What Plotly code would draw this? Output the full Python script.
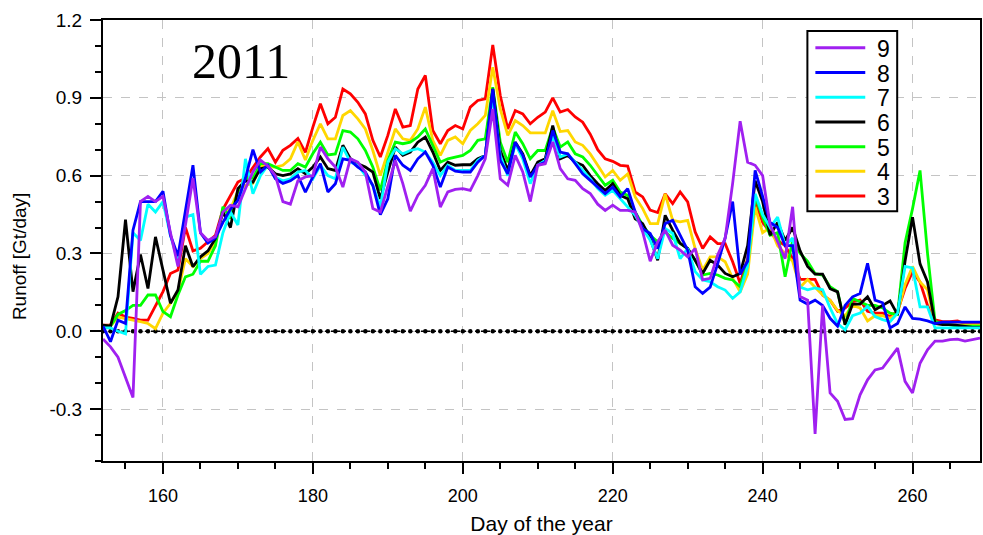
import plotly.graph_objects as go

# Day of year axis (daily values, days 152-269)
days = list(range(152, 270))

# Runoff [Gt/day] per experiment
runoff_9 = [
    -0.03, -0.06, -0.10, -0.18, -0.255, 0.50, 0.52, 0.50, 0.52, 0.38,
    0.25, 0.41, 0.59, 0.38, 0.35, 0.365, 0.46, 0.486, 0.48, 0.55,
    0.614, 0.66, 0.637, 0.60, 0.50, 0.49, 0.58, 0.595, 0.60, 0.71,
    0.665, 0.633, 0.556, 0.665, 0.652, 0.614, 0.473, 0.46, 0.556, 0.659,
    0.569, 0.463, 0.524, 0.563, 0.627, 0.479, 0.537, 0.547, 0.55, 0.543,
    0.60, 0.665, 0.857, 0.588, 0.563, 0.678, 0.614, 0.50, 0.64, 0.646,
    0.73, 0.627, 0.588, 0.582, 0.55, 0.531, 0.49, 0.466, 0.486, 0.466,
    0.466, 0.46, 0.383, 0.27, 0.345, 0.39, 0.332, 0.313, 0.287, 0.319,
    0.198, 0.204, 0.294, 0.358, 0.57, 0.81, 0.652, 0.64, 0.60, 0.41,
    0.345, 0.28, 0.48, 0.134, 0.12, -0.396, 0.10, -0.238, -0.27, -0.34,
    -0.337, -0.245, -0.187, -0.149, -0.142, -0.104, -0.065, -0.193, -0.238, -0.123,
    -0.071, -0.038, -0.038, -0.032, -0.03, -0.038, -0.032, -0.026,
]
runoff_8 = [
    0.02, -0.04, 0.043, 0.03, 0.39, 0.50, 0.50, 0.50, 0.54, 0.37,
    0.29, 0.466, 0.64, 0.38, 0.34, 0.36, 0.42, 0.47, 0.505, 0.59,
    0.70, 0.614, 0.64, 0.588, 0.57, 0.58, 0.60, 0.536, 0.595, 0.646,
    0.537, 0.569, 0.665, 0.659, 0.633, 0.614, 0.562, 0.45, 0.511, 0.678,
    0.64, 0.62, 0.665, 0.691, 0.64, 0.556, 0.633, 0.617, 0.614, 0.614,
    0.652, 0.678, 0.934, 0.659, 0.607, 0.729, 0.678, 0.595, 0.64, 0.652,
    0.774, 0.691, 0.684, 0.646, 0.607, 0.582, 0.556, 0.531, 0.556, 0.518,
    0.55, 0.46, 0.396, 0.377, 0.319, 0.415, 0.428, 0.37, 0.313, 0.172,
    0.146, 0.17, 0.26, 0.36, 0.50, 0.22, 0.27, 0.62, 0.52, 0.42,
    0.40, 0.33, 0.33, 0.12, 0.105, 0.12, 0.10, 0.05, 0.02, 0.10,
    0.133, 0.146, 0.262, 0.12, 0.11, 0.013, 0.03, 0.094, 0.05, 0.047,
    0.04, 0.03, 0.035, 0.035, 0.035, 0.035, 0.035, 0.035,
]
runoff_7 = [
    0.013, 0.013, 0.0, -0.01, 0.38, 0.35, 0.49, 0.46, 0.50, 0.37,
    0.27, 0.44, 0.45, 0.22, 0.25, 0.255, 0.38, 0.46, 0.41, 0.665,
    0.53, 0.60, 0.64, 0.594, 0.58, 0.588, 0.614, 0.62, 0.588, 0.64,
    0.60, 0.588, 0.71, 0.652, 0.64, 0.60, 0.562, 0.479, 0.652, 0.704,
    0.684, 0.697, 0.704, 0.691, 0.652, 0.60, 0.64, 0.62, 0.62, 0.62,
    0.659, 0.678, 0.909, 0.678, 0.60, 0.723, 0.665, 0.569, 0.64, 0.659,
    0.754, 0.672, 0.684, 0.652, 0.62, 0.588, 0.55, 0.524, 0.543, 0.511,
    0.479, 0.447, 0.396, 0.351, 0.28, 0.396, 0.377, 0.28, 0.319, 0.23,
    0.198, 0.191, 0.172, 0.159, 0.127, 0.152, 0.25, 0.53, 0.45, 0.40,
    0.44, 0.33, 0.36, 0.17, 0.16, 0.167, 0.16, 0.09, 0.03, 0.006,
    0.06, 0.07, 0.096, 0.057, 0.045, 0.037, 0.07, 0.25, 0.244, 0.094,
    0.094, 0.013, 0.013, 0.013, 0.013, 0.013, 0.013, 0.013,
]
runoff_6 = [
    0.024, 0.02, 0.133, 0.43, 0.153, 0.296, 0.165, 0.364, 0.236, 0.108,
    0.159, 0.33, 0.249, 0.287, 0.31, 0.358, 0.46, 0.40, 0.55, 0.58,
    0.575, 0.627, 0.633, 0.607, 0.60, 0.607, 0.627, 0.607, 0.633, 0.672,
    0.627, 0.62, 0.717, 0.665, 0.646, 0.633, 0.614, 0.51, 0.614, 0.71,
    0.678, 0.691, 0.729, 0.749, 0.691, 0.62, 0.652, 0.64, 0.642, 0.642,
    0.665, 0.678, 0.934, 0.697, 0.62, 0.729, 0.684, 0.60, 0.652, 0.665,
    0.793, 0.665, 0.678, 0.652, 0.64, 0.60, 0.569, 0.543, 0.569, 0.524,
    0.511, 0.434, 0.415, 0.358, 0.274, 0.447, 0.39, 0.339, 0.319, 0.274,
    0.223, 0.274, 0.255, 0.223, 0.21, 0.223, 0.33, 0.58, 0.50, 0.37,
    0.42, 0.35, 0.40, 0.31, 0.25, 0.22, 0.22, 0.164, 0.152, 0.025,
    0.105, 0.105, 0.133, 0.083, 0.10, 0.117, 0.064, 0.27, 0.44, 0.26,
    0.19, 0.03, 0.026, 0.026, 0.023, 0.02, 0.015, 0.015,
]
runoff_5 = [
    0.02, 0.02, 0.065, 0.08, 0.10, 0.10, 0.14, 0.14, 0.076, 0.056,
    0.14, 0.21, 0.22, 0.27, 0.27, 0.33, 0.48, 0.435, 0.54, 0.59,
    0.59, 0.646, 0.646, 0.633, 0.62, 0.62, 0.646, 0.633, 0.685, 0.729,
    0.68, 0.684, 0.774, 0.768, 0.742, 0.697, 0.633, 0.543, 0.659, 0.729,
    0.723, 0.729, 0.749, 0.78, 0.717, 0.652, 0.665, 0.672, 0.678, 0.697,
    0.736, 0.742, 0.941, 0.729, 0.652, 0.768, 0.723, 0.665, 0.697, 0.697,
    0.787, 0.71, 0.73, 0.684, 0.672, 0.64, 0.60, 0.563, 0.582, 0.537,
    0.524, 0.46, 0.409, 0.37, 0.345, 0.383, 0.358, 0.339, 0.319, 0.274,
    0.217, 0.223, 0.217, 0.204, 0.198, 0.172, 0.26, 0.52, 0.44, 0.37,
    0.38, 0.21, 0.35, 0.30, 0.27, 0.222, 0.217, 0.172, 0.153, 0.025,
    0.127, 0.114, 0.10, 0.10, 0.09, 0.07, 0.064, 0.34, 0.473, 0.62,
    0.30, 0.037, 0.03, 0.025, 0.02, 0.02, 0.02, 0.02,
]
runoff_4 = [
    0.02, 0.02, 0.055, 0.05, 0.043, 0.037, 0.03, 0.01, 0.07, 0.108,
    0.153, 0.28, 0.25, 0.28, 0.30, 0.345, 0.46, 0.47, 0.54, 0.563,
    0.57, 0.64, 0.633, 0.633, 0.64, 0.665, 0.73, 0.66, 0.736, 0.80,
    0.742, 0.742, 0.832, 0.851, 0.819, 0.78, 0.697, 0.60, 0.69, 0.78,
    0.742, 0.736, 0.78, 0.864, 0.736, 0.678, 0.736, 0.749, 0.723, 0.774,
    0.80, 0.832, 1.018, 0.857, 0.755, 0.812, 0.793, 0.765, 0.765, 0.765,
    0.85, 0.77, 0.774, 0.73, 0.717, 0.684, 0.64, 0.595, 0.62, 0.582,
    0.607, 0.518, 0.473, 0.415, 0.415, 0.53, 0.428, 0.422, 0.428, 0.319,
    0.236, 0.287, 0.287, 0.268, 0.204, 0.152, 0.22, 0.48, 0.38, 0.40,
    0.33, 0.30, 0.27, 0.17, 0.20, 0.17, 0.14, 0.12, 0.08, 0.06,
    0.10, 0.09, 0.04, 0.06, 0.06, 0.05, 0.07, 0.18, 0.25, 0.19,
    0.16, 0.03, 0.03, 0.03, 0.025, 0.025, 0.025, 0.025,
]
runoff_3 = [
    0.024, 0.024, 0.07, 0.055, 0.05, 0.043, 0.043, 0.10, 0.153, 0.223,
    0.236, 0.40, 0.31, 0.32, 0.345, 0.37, 0.47, 0.52, 0.575, 0.59,
    0.633, 0.672, 0.704, 0.652, 0.698, 0.717, 0.743, 0.69, 0.787, 0.877,
    0.80, 0.825, 0.934, 0.915, 0.883, 0.838, 0.736, 0.672, 0.755, 0.857,
    0.787, 0.793, 0.934, 0.986, 0.774, 0.723, 0.774, 0.793, 0.78, 0.864,
    0.89, 0.896, 1.104, 0.909, 0.78, 0.851, 0.838, 0.80, 0.825, 0.845,
    0.90, 0.845, 0.855, 0.826, 0.806, 0.76, 0.70, 0.665, 0.655, 0.64,
    0.637, 0.537, 0.518, 0.467, 0.458, 0.53, 0.492, 0.537, 0.499, 0.383,
    0.319, 0.364, 0.338, 0.338, 0.268, 0.185, 0.28, 0.50, 0.42, 0.38,
    0.35, 0.33, 0.28, 0.20, 0.20, 0.20, 0.14, 0.12, 0.077, 0.09,
    0.114, 0.12, 0.077, 0.07, 0.07, 0.057, 0.077, 0.165, 0.23, 0.19,
    0.10, 0.044, 0.037, 0.037, 0.04, 0.03, 0.03, 0.03,
]

series_names = ["9", "8", "7", "6", "5", "4", "3"]
series_values = [runoff_9, runoff_8, runoff_7, runoff_6, runoff_5, runoff_4, runoff_3]
series_colors = ["#A020F0", "#0000FF", "#00FFFF", "#000000", "#00FF00", "#FFD700", "#FF0000"]

y_tickvals = [-0.3, 0.0, 0.3, 0.6, 0.9, 1.2]
y_ticktext = ["-0.3", "0.0", "0.3", "0.6", "0.9", "1.2"]

# Plot-area geometry in pixels (used to place the legend box and labels)
W, H = 983, 535
ML, MR, MT, MB = 103, 1, 20, 72
PW, PH = W - ML - MR, H - MT - MB


def px_x(px):
    return (px - ML) / PW


def px_y(py):
    return 1 - (py - MT) / PH


fig = go.Figure()

# Zero reference line with a dot on every day
fig.add_trace(go.Scatter(
    x=days, y=[0.0] * len(days), mode="lines+markers",
    line=dict(color="black", width=1.5, dash="dot"),
    marker=dict(color="black", size=4.5),
    showlegend=False, hoverinfo="skip",
))

# Draw 3 first so 9 ends up on top
for name, vals, col in reversed(list(zip(series_names, series_values, series_colors))):
    fig.add_trace(go.Scatter(
        x=days, y=vals, mode="lines", name=name,
        line=dict(color=col, width=2.8),
        showlegend=False,
    ))

font_main = "Liberation Sans, Arial, sans-serif"

fig.update_layout(
    width=W, height=H,
    margin=dict(l=ML, r=MR, t=MT, b=MB),
    paper_bgcolor="white", plot_bgcolor="white",
    font=dict(family=font_main, color="black", size=18),
    showlegend=False,
)

fig.update_xaxes(
    range=[152, 269], tick0=0, dtick=20,
    showline=True, linecolor="black", linewidth=2, mirror=True,
    ticks="outside", ticklen=11, tickwidth=1.5, tickcolor="black",
    ticklabelstandoff=6,
    minor=dict(dtick=5, tick0=0, ticks="outside", ticklen=6, tickwidth=1.5, tickcolor="black", showgrid=False),
    showgrid=True, gridcolor="#c4c4c4", griddash="dash", gridwidth=1,
    zeroline=False,
    tickfont=dict(size=18),
    title=dict(text="Day of the year", font=dict(size=21), standoff=14),
)

fig.update_yaxes(
    range=[-0.5, 1.2], tickmode="array", tickvals=y_tickvals, ticktext=y_ticktext,
    showline=True, linecolor="black", linewidth=2, mirror=True,
    ticks="outside", ticklen=11, tickwidth=1.5, tickcolor="black",
    ticklabelstandoff=4,
    minor=dict(dtick=0.1, tick0=0, ticks="outside", ticklen=6, tickwidth=1.5, tickcolor="black", showgrid=False),
    showgrid=True, gridcolor="#c4c4c4", griddash="dash", gridwidth=1,
    zeroline=False,
    tickfont=dict(size=19),
)

# Vertical axis label
fig.add_annotation(
    x=px_x(20), y=px_y(258), xref="paper", yref="paper",
    text="Runoff [Gt/day]", showarrow=False, textangle=-90,
    xanchor="center", yanchor="middle",
    font=dict(size=19, color="black"),
)

# Year label
fig.add_annotation(
    x=px_x(241), y=px_y(61), xref="paper", yref="paper",
    text="2011", showarrow=False, xanchor="center", yanchor="middle",
    font=dict(family="Liberation Serif, Times New Roman, serif", size=50, color="black"),
)

# Legend box with a line sample and label for each series
box_l, box_r, box_t, box_b = 809, 899, 31, 212
fig.add_shape(type="rect", xref="paper", yref="paper",
              x0=px_x(box_l), x1=px_x(box_r), y0=px_y(box_b), y1=px_y(box_t),
              line=dict(color="black", width=2), fillcolor="white", layer="above")
row_top, row_step = 48, 24.8
for i, (name, col) in enumerate(zip(series_names, series_colors)):
    ry = row_top + i * row_step
    fig.add_shape(type="line", xref="paper", yref="paper",
                  x0=px_x(817), x1=px_x(867), y0=px_y(ry), y1=px_y(ry),
                  line=dict(color=col, width=3), layer="above")
    fig.add_annotation(x=px_x(877), y=px_y(ry + 1), xref="paper", yref="paper",
                       text=name, showarrow=False, xanchor="left", yanchor="middle",
                       font=dict(size=23, color="black"))

fig.write_html("out.html")
